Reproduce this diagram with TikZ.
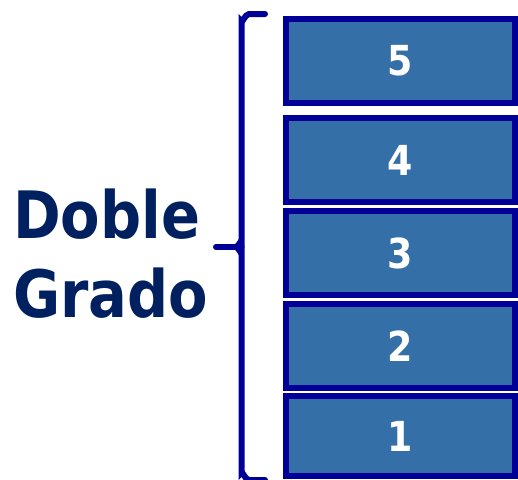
\documentclass[tikz,border=0pt]{standalone}
\usepackage{fontspec}
\newfontfamily\dgfont[FakeStretch=0.88]{DejaVu Sans}
\usepackage{tikz}
\usetikzlibrary{positioning}
\definecolor{navy}{RGB}{0,32,96}
\definecolor{boxline}{RGB}{0,0,153}
\definecolor{boxfill}{RGB}{52,111,168}

\begin{document}
\begin{tikzpicture}[x=0.75pt,y=-0.75pt]
			\useasboundingbox (0,0) rectangle (518,479);
			\tikzset{yr/.style={draw=boxline, fill=boxfill, line width=4.5pt, minimum width=171.75pt, minimum height=63pt, inner sep=0pt, text=white, font=\dgfont\bfseries\fontsize{31}{31}\selectfont}}
			\tikzset{lbl/.style={anchor=base west, inner sep=0pt, text=navy, font=\dgfont\bfseries\fontsize{49}{49}\selectfont}}
			
			\node[yr] (y5) at (400.5,61) {5};
			\node[yr, below=6.75pt of y5] (y4) {4};
			\node[yr, below=2.25pt of y4] (y3) {3};
			\node[yr, below=2.25pt of y3] (y2) {2};
			\node[yr, minimum height=60pt, below=1.5pt of y2] (y1) {1};
			
			\node[lbl] (doble) at (13,238) {Doble};
			\node[lbl] (grado) at (13,317) {Grado};
			
			% brace
			\draw[boxline, line width=4.5pt, line cap=round] (265,14) -- (249,14) to[out=180,in=-90] (241.5,21) -- (241.5,473) to[out=90,in=180] (249,480) -- (265,480);
			\draw[boxline, line width=4.5pt, line cap=round] (216,247) -- (241.5,247);
			\draw[boxline, line width=3pt] (241.5,240) to[out=90,in=0] (234,247) to[out=0,in=-90] (241.5,254);
		\end{tikzpicture}
\end{document}
